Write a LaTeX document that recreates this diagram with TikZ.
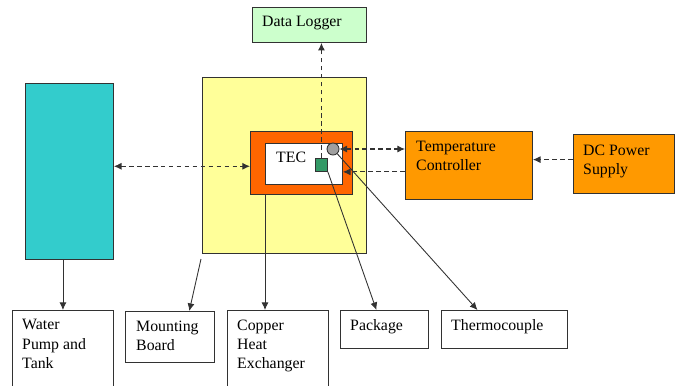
\documentclass[tikz,border=0pt]{standalone}
\usepackage{fontspec}
\setmainfont{Liberation Serif}
\usetikzlibrary{arrows.meta}
\definecolor{PumpCyan}{RGB}{51,204,204}
\definecolor{BoardYellow}{RGB}{255,255,153}
\definecolor{FrameOrange}{RGB}{255,102,0}
\definecolor{CtrlOrange}{RGB}{255,153,0}
\definecolor{LogGreen}{RGB}{204,255,204}
\definecolor{SensGreen}{RGB}{51,153,102}
\definecolor{LineGray}{RGB}{50,50,50}

\tikzset{
  box/.style={draw=LineGray,line width=0.75pt,anchor=north west,inner sep=0pt},
  txt/.style={anchor=north west,inner sep=0pt,align=left,font=\fontsize{13.5}{16.6}\selectfont},
  link/.style={draw=LineGray,line width=0.75pt},
  dlink/.style={link,line width=0.9pt,dash pattern=on 4pt off 2.8pt},
  >={Latex[length=6.5pt,width=6pt]}
}

\begin{document}
\begin{tikzpicture}[x=0.03cm,y=-0.03cm]
    \clip (0,0) rectangle (683,385);
    % top row
    \node[box,fill=LogGreen,minimum width=3.42cm,minimum height=1.05cm] (logger) at (252,7) {};
    \node[txt] (loggertxt) at ([xshift=0.3cm,yshift=-0.27cm]logger.north west) {Data Logger};

    % test stand
    \node[box,fill=PumpCyan,minimum width=2.64cm,minimum height=5.28cm] (pump) at (25,83) {};
    \node[box,fill=BoardYellow,minimum width=4.92cm,minimum height=5.28cm] (board) at (202,77) {};
    \node[box,fill=FrameOrange,minimum width=3.06cm,minimum height=1.89cm] (frame) at (250,131) {};
    \node[box,fill=white,minimum width=2.31cm,minimum height=1.23cm] (inner) at (265,143) {};
    \node[txt] (tectxt) at ([xshift=0.33cm,yshift=-0.27cm]inner.north west) {TEC};
    \node[box,fill=CtrlOrange,minimum width=3.81cm,minimum height=2.04cm] (tc) at (405,131) {};
    \node[txt] (tctxt) at ([xshift=0.33cm,yshift=-0.29cm]tc.north west) {Temperature\\Controller};
    \node[box,fill=CtrlOrange,minimum width=3.03cm,minimum height=1.77cm] (dc) at (573,134) {};
    \node[txt] (dctxt) at ([xshift=0.3cm,yshift=-0.32cm]dc.north west) {DC Power\\Supply};

    % bottom row
    \node[box,minimum width=3.03cm,minimum height=2.8cm] (water) at (12,310) {};
    \node[txt] (watertxt) at ([xshift=0.3cm,yshift=-0.28cm]water.north west) {Water\\Pump and\\Tank};
    \node[box,minimum width=2.67cm,minimum height=1.53cm] (mount) at (125,311) {};
    \node[txt] (mounttxt) at ([xshift=0.33cm,yshift=-0.29cm]mount.north west) {Mounting\\Board};
    \node[box,minimum width=3.03cm,minimum height=2.8cm] (copper) at (227,310) {};
    \node[txt] (coppertxt) at ([xshift=0.3cm,yshift=-0.28cm]copper.north west) {Copper\\Heat\\Exchanger};
    \node[box,minimum width=2.64cm,minimum height=1.14cm] (pkg) at (340,310) {};
    \node[txt] (pkgtxt) at ([xshift=0.3cm,yshift=-0.28cm]pkg.north west) {Package};
    \node[box,minimum width=3.78cm,minimum height=1.14cm] (thermo) at (441,310) {};
    \node[txt] (thermotxt) at ([xshift=0.3cm,yshift=-0.28cm]thermo.north west) {Thermocouple};

    % dashed signal lines
    \node[box,fill=SensGreen,minimum width=0.36cm,minimum height=0.39cm] (sq) at (315,158) {};
    \draw[dlink,->] (sq.north) -- (sq.north |- logger.south);
    \coordinate (pumpin) at ([yshift=-0.1cm]frame.west);
    \draw[dlink,<->] (pumpin -| pump.east) -- (pumpin);
    \draw[dlink,->] (sq.south -| tc.west) -- (sq.south -| inner.east);
    \node[circle,draw=LineGray,fill=gray!75,line width=0.75pt,minimum size=0.36cm,inner sep=0pt] (circ) at (333,149) {};
    \draw[dlink,<->] (circ.east) -- (circ.east -| tc.west);
    \coordinate (dcin) at ([yshift=0.13cm]dc.west);
    \draw[dlink,->] (dcin) -- (dcin -| tc.east);

    % solid pointers
    \draw[link,->] (water.north |- pump.south) -- (water.north);
    \coordinate (boardtail) at (201,259);
    \draw[link,->] (boardtail) -- ([xshift=0.58cm]mount.north);
    \coordinate (cuout) at ([xshift=0.45cm]frame.south west);
    \draw[link,->] (cuout) -- (cuout |- copper.north);
    \draw[link,->] (sq.south east) -- ([xshift=-0.24cm]pkg.north);
    \draw[link,->] (circ) -- ([xshift=-0.81cm]thermo.north);
\end{tikzpicture}
\end{document}
